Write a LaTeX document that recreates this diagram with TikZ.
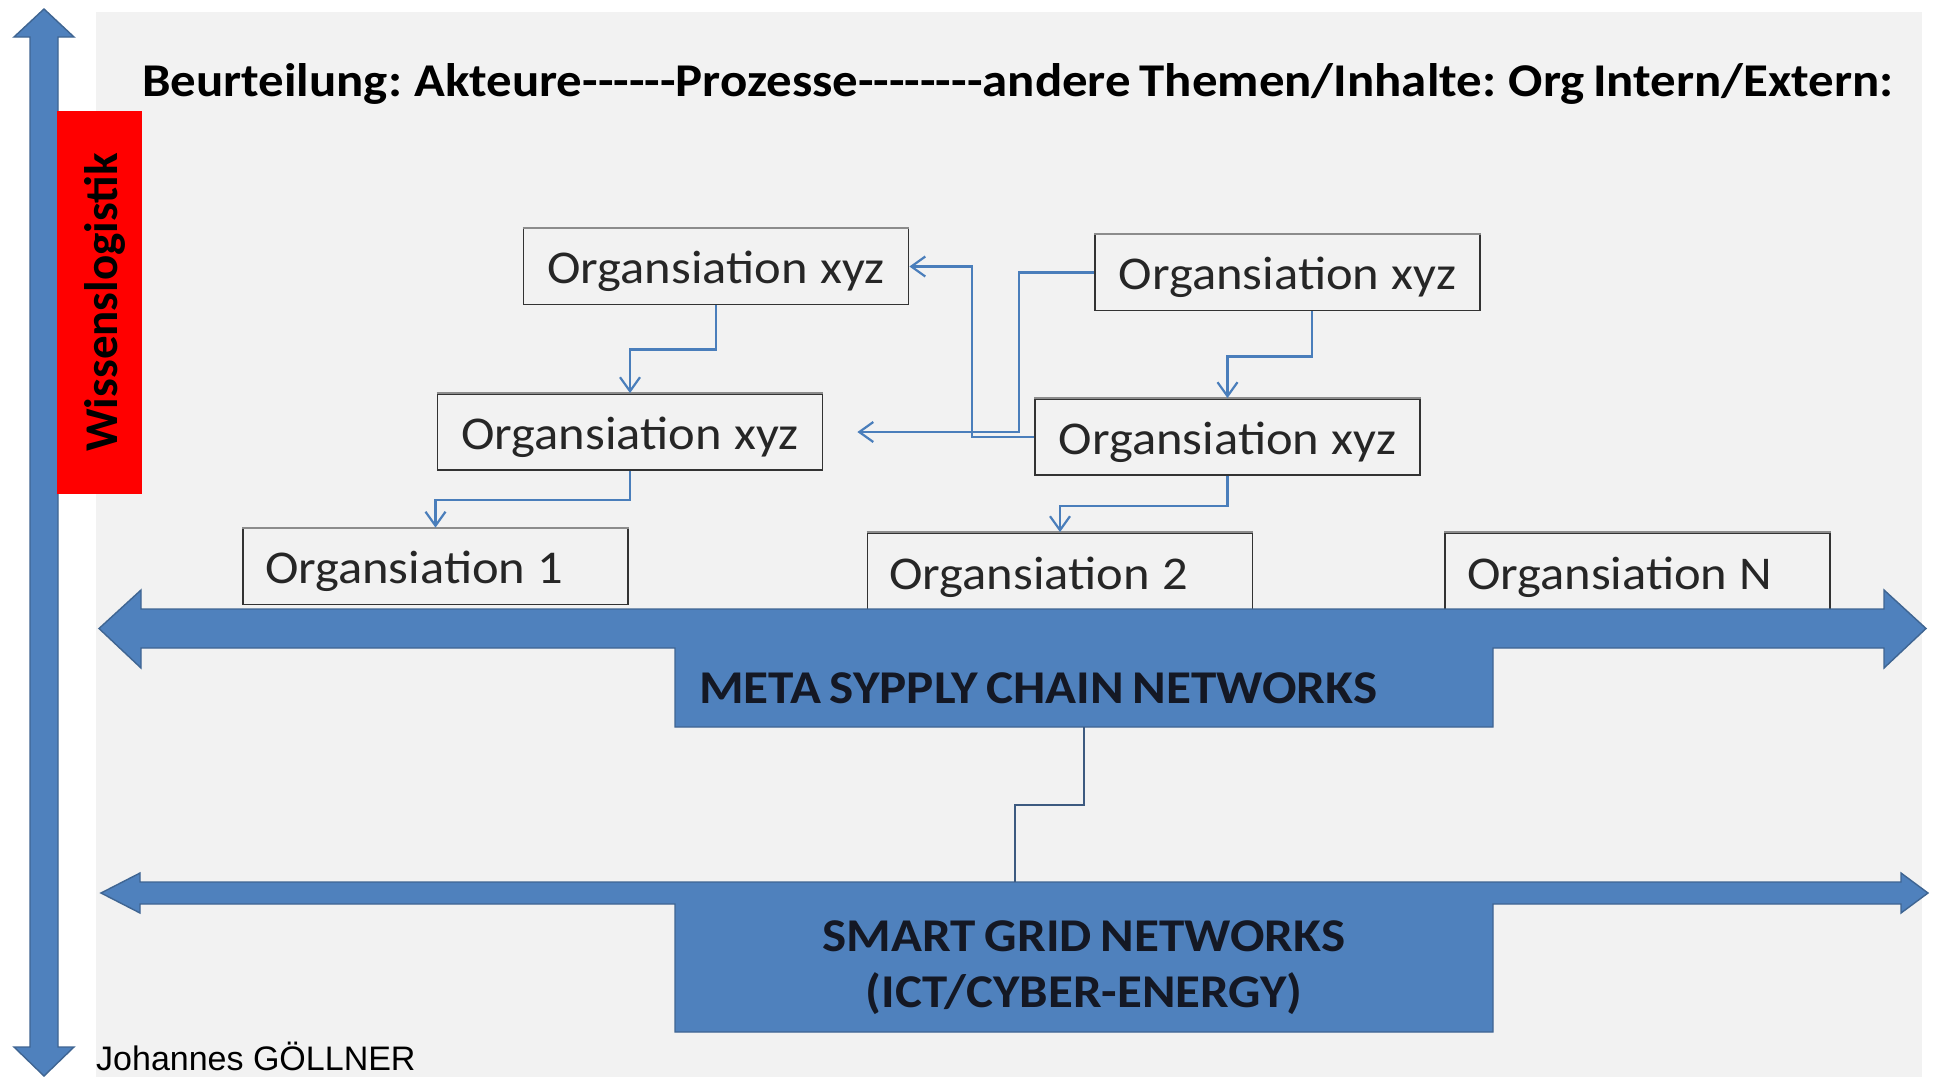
\documentclass[tikz,border=0pt]{standalone}
\usepackage{fontspec}
\setmainfont{Carlito}[Ligatures=TeXOff, WordSpace=0.75]
\newfontfamily\arialfont{Liberation Sans}
\usetikzlibrary{arrows.meta}
\definecolor{panel}{HTML}{F2F2F2}
\definecolor{bigblue}{HTML}{4F81BD}
\definecolor{bigedge}{HTML}{3F6592}
\definecolor{connblue}{HTML}{4A7EBB}
\definecolor{linkblue}{HTML}{3D5A80}
\definecolor{boxtext}{HTML}{262626}
\definecolor{labeltext}{HTML}{141824}
% stretched text (#1 = lowering, #2 = horizontal factor) without changing its reported size
\newcommand{\wx}[3][0pt]{\raisebox{-#1}[\height][\depth]{\scalebox{#2}[1]{#3}}}
\newcommand{\lowered}[2]{\raisebox{-#1}[\height][\depth]{#2}}
\newcommand{\wgap}{\hspace{11.5pt}}
\tikzset{
  orgbox/.style={draw=black!80, line width=1.8pt, fill=panel, text width=341pt,
    inner xsep=22pt, inner ysep=0pt, minimum height=76pt, text=boxtext,
    font=\fontsize{47}{56}\selectfont},
  topedge/.style={draw=black!45, line width=1.8pt},
  conn/.style={draw=connblue, line width=2.2pt,
    -{Straight Barb[length=14pt,width=20pt]}},
  linkline/.style={draw=linkblue, line width=1.8pt},
  bigarrow/.style={fill=bigblue, draw=bigedge, line width=1.4pt, line join=miter},
  boldtext/.style={font=\bfseries\fontsize{47}{56}\selectfont, inner sep=0pt}
}
\begin{document}
\begin{tikzpicture}[x=1pt,y=-1pt]
\useasboundingbox (0,0) rectangle (1936,1077);
\fill[white] (0,0) rectangle (1936,1077);
% panel
\fill[panel] (96,12) rectangle (1922,1077);
% vertical double arrow
\path[bigarrow] (44,9) -- (74,37) -- (58,37) -- (58,1047) -- (74,1047) -- (44,1076)
  -- (14,1047) -- (30,1047) -- (30,37) -- (14,37) -- cycle;
% red label
\node[rotate=90, fill=red, minimum width=383pt, minimum height=85pt, inner sep=0pt,
  font=\bfseries\fontsize{47}{56}\selectfont] (wl) at (99.5,302.5)
  {\lowered{5pt}{Wissenslogistik}};
% title
\node[boldtext, anchor=west] (title) at (142,80)
  {\wx[4pt]{1.082}{Beurteilung: Akteure------Prozesse--------andere Themen/Inhalte: Org Intern/Extern:}};
% organisation boxes
\node[orgbox, align=center] (A) at (716,266.5) {\wx[5pt]{1.075}{Organsiation\wgap xyz}};
\node[orgbox, align=center] (B) at (1287.5,272.5) {\wx[5pt]{1.075}{Organsiation\wgap xyz}};
\node[orgbox, align=center] (C) at (630,432) {\wx[5pt]{1.075}{Organsiation\wgap xyz}};
\node[orgbox, align=center] (D) at (1227.5,437) {\wx[5pt]{1.075}{Organsiation\wgap xyz}};
\node[orgbox, align=left] (E) at (435.5,566.5) {\wx[5pt]{1.075}{Organsiation\wgap 1}};
\node[orgbox, align=left, minimum height=78pt] (F) at (1060,572) {\wx[5pt]{1.075}{Organsiation\wgap 2}};
\node[orgbox, align=left, minimum height=78pt] (G) at (1637.5,572) {\wx[5pt]{1.075}{Organsiation\wgap N}};
\foreach \b in {A,B,C,D,E,F,G}
  \draw[topedge] (\b.north west) -- (\b.north east);
\coordinate (tipC) at ([xshift=34pt]C.east);
% connectors
\draw[conn] (A.south) -- ++(0,44) -| (C.north);
\draw[conn] (C.south) -- ++(0,29) -| (E.north);
\draw[conn] ([xshift=24.5pt]B.south) -- ++(0,45) -| (D.north);
\draw[conn] (D.south) -- ++(0,30) -| (F.north);
\draw[conn] (B.west) -- ++(-75,0) |- (tipC);
\draw[conn] (D.west) -- ++(-62,0) |- (A.east);
% meta supply chain arrow + label block
\path[bigarrow] (99,628.5) -- (141,590) -- (141,609) -- (1884,609) -- (1884,590)
  -- (1926,628.5) -- (1884,668) -- (1884,648) -- (1493,648) -- (1493,727)
  -- (675,727) -- (675,648) -- (141,648) -- (141,668) -- cycle;
\node[minimum width=818pt, minimum height=79pt, inner sep=0pt] (metabox) at (1084,687.5) {};
\node[boldtext, anchor=west, text=labeltext] (metatext) at (699,688)
  {\wx{1.088}{META SYPPLY CHAIN NETWORKS}};
% smart grid arrow + label block
\path[bigarrow] (101,893) -- (140,873) -- (140,882) -- (1901,882) -- (1901,873)
  -- (1928,893) -- (1901,913) -- (1901,904) -- (1493,904) -- (1493,1032)
  -- (675,1032) -- (675,904) -- (140,904) -- (140,913) -- cycle;
\coordinate (smarttop) at (1015,882);
\node[boldtext, align=center, text=labeltext] (smarttext) at (1084,968)
  {\wx{1.087}{SMART GRID NETWORKS}\\\wx{1.082}{(ICT/CYBER-ENERGY)}};
\draw[linkline] (metabox.south) -- ++(0,78) -| (smarttop);
% author
\node[anchor=base west, inner sep=0pt, font=\arialfont\fontsize{34}{40}\selectfont]
  (author) at (96,1070) {Johannes GÖLLNER};
\end{tikzpicture}
\end{document}
